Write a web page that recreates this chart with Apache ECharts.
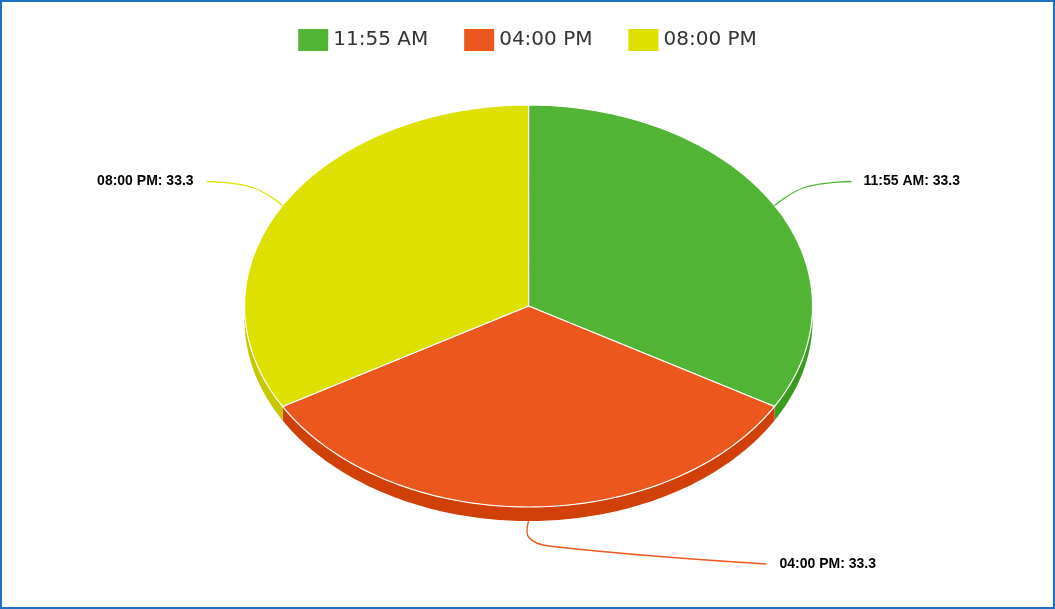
<!DOCTYPE html><html><head><meta charset="utf-8">
<script src="https://cdn.jsdelivr.net/npm/echarts@6/dist/echarts.min.js"></script>
<style>html,body{margin:0;padding:0;}#c{width:1051px;height:605px;border:2px solid #1f6fc5;}</style>
</head><body><div id="c"></div><script>
const categories=['11:55 AM','04:00 PM','08:00 PM'];
const values=[33.3,33.3,33.3];
const colors=['#52b435','#ec571d','#dee000'];
const sideColors=['#3c9a20','#d2400a','#c5c700'];
const total=values.reduce((a,b)=>a+b,0);
const chart=echarts.init(document.getElementById('c'));
function pt(cx,cy,rx,ry,deg,dy){const r=deg*Math.PI/180;return [cx+rx*Math.sin(r),cy-ry*Math.cos(r)+(dy||0)];}
function render(idx){return function(params,api){
  const W=api.getWidth();
  const cx=W*0.501,cy=304,rx=284,ry=201,depth=14;
  let s=0;for(let i=0;i<idx;i++)s+=values[i];
  const a=s/total*360,b=(s+values[idx])/total*360;
  const children=[];
  const sa=Math.max(a,90),sb=Math.min(b,270);
  if(sb>sa){const top=[],bot=[];for(let d=sa;d<=sb+0.001;d+=1){top.push(pt(cx,cy,rx,ry,Math.min(d,sb)));bot.unshift(pt(cx,cy,rx,ry,Math.min(d,sb),depth));}
    children.push({type:'polygon',shape:{points:top.concat(bot)},style:{fill:sideColors[idx]}});}
  const pts=[[cx,cy]];for(let d=a;d<=b+0.001;d+=1)pts.push(pt(cx,cy,rx,ry,Math.min(d,b)));
  children.push({type:'polygon',shape:{points:pts},style:{fill:colors[idx],stroke:'#fff',lineWidth:1.2}});
  const m=(a+b)/2;const e=pt(cx,cy,rx,ry,m);
  let line,tx,ty,align;
  if(m<90){line=[e,[e[0]+30,e[1]-18],[e[0]+77,e[1]-24]];tx=e[0]+89;ty=e[1]-24;align='left';}
  else if(m<270&&m>90){const e2=[e[0],e[1]+depth];line=[e2,[e2[0],e2[1]+16],[e2[0]+20,e2[1]+25],[e2[0]+238,e2[1]+43]];tx=e2[0]+251;ty=e2[1]+43;align='left';}
  else{line=[e,[e[0]-30,e[1]-18],[e[0]-76,e[1]-24]];tx=e[0]-89;ty=e[1]-24;align='right';}
  children.push({type:'polyline',shape:{points:line,smooth:0.4},style:{stroke:colors[idx],lineWidth:1.3,fill:null}});
  children.push({type:'text',x:tx,y:ty,style:{text:categories[idx]+': '+values[idx],fill:'#000',font:'bold 14px "Liberation Sans", Arial',align:align,verticalAlign:'middle'}});
  return {type:'group',children:children};
};}
chart.setOption({
  animation:false,
  legend:{top:22,itemWidth:30,itemHeight:22,itemGap:36,icon:'rect',data:categories,textStyle:{fontSize:20,color:'#333',fontFamily:'DejaVu Sans'}},
  series:categories.map((c,i)=>({type:'custom',name:c,coordinateSystem:'none',itemStyle:{color:colors[i]},data:[[values[i]]],renderItem:render(i)}))
});
</script></body></html>
